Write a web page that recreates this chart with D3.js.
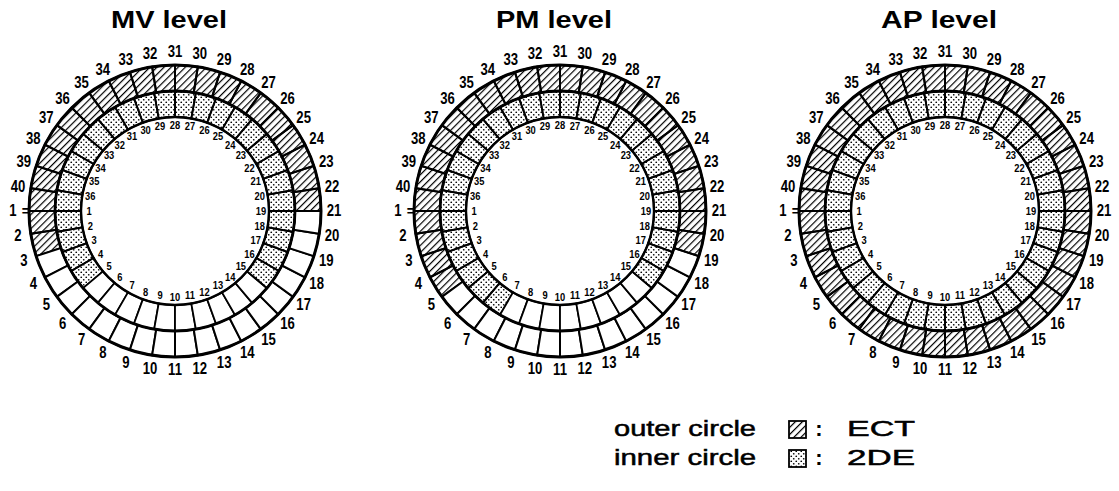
<!DOCTYPE html>
<html><head><meta charset="utf-8">
<script src="https://cdn.jsdelivr.net/npm/d3@7"></script>
<style>body{margin:0;background:#fff}svg{display:block}</style>
</head><body>
<script>
// ---------- data ----------
const levelNames = ["MV level", "PM level", "AP level"];
const outerLabels = [1,2,3,4,5,6,7,8,9,10,11,12,13,14,15,16,17,18,19,20,21,22,23,24,25,26,27,28,29,30,31,32,33,34,35,36,37,38,39,40];
const innerLabels = [1,2,3,4,5,6,7,8,9,10,11,12,13,14,15,16,17,18,19,20,21,22,23,24,25,26,27,28,29,30,31,32,33,34,35,36];
// outer circle segments showing ECT abnormality (segment i spans label i -> label i+1)
const ectMV = [21,22,23,24,25,26,27,28,29,30,31,32,33,34,35,36,37,38,39,40,1,2];
const ectPM = [19,20,21,22,23,24,25,26,27,28,29,30,31,32,33,34,35,36,37,38,39,40,1,2,3,4];
const ectAP = [1,2,3,4,5,6,7,8,9,10,11,12,13,14,15,16,17,18,19,20,21,22,23,24,25,26,27,28,29,30,31,32,33,34,35,36,37,38,39,40];
// inner circle segments showing 2DE abnormality
const deMV = [15,16,17,18,19,20,21,22,23,24,25,26,27,28,29,30,31,32,33,34,35,36,1,2,3,4];
const dePM = [15,16,17,18,19,20,21,22,23,24,25,26,27,28,29,30,31,32,33,34,35,36,1,2,3,4,5,6];
const deAP = [1,2,3,4,5,6,7,8,9,10,11,12,13,14,15,16,17,18,19,20,21,22,23,24,25,26,27,28,29,30,31,32,33,34,35,36];
const ectSets = [ectMV, ectPM, ectAP];
const deSets = [deMV, dePM, deAP];
const legendRows = [["outer circle", "ECT", "hatch"], ["inner circle", "2DE", "dots"]];

// ---------- layout ----------
const W = 1119, H = 491;
const centersX = [175, 560, 945], cy = 211;
const rOuter = 146, rMid = 120, rInner = 94;

const svg = d3.select("body").append("svg").attr("width", W).attr("height", H);
const defs = svg.append("defs");
const hatch = defs.append("pattern").attr("id", "hatch").attr("patternUnits", "userSpaceOnUse")
  .attr("width", 5).attr("height", 5).attr("patternTransform", "rotate(45)");
hatch.append("line").attr("x1", 0).attr("y1", -1).attr("x2", 0).attr("y2", 6)
  .attr("stroke", "#000").attr("stroke-width", 2.4);
const dots = defs.append("pattern").attr("id", "dots").attr("patternUnits", "userSpaceOnUse")
  .attr("width", 5).attr("height", 5);
dots.append("circle").attr("cx", 1.25).attr("cy", 1.25).attr("r", 0.85).attr("fill", "#000");
dots.append("circle").attr("cx", 3.75).attr("cy", 3.75).attr("r", 0.85).attr("fill", "#000");

const outerAngle = d3.scaleLinear().domain([1, outerLabels.length + 1])
  .range([-Math.PI / 2, -Math.PI / 2 - 2 * Math.PI]);
const innerAngle = d3.scaleLinear().domain([1, innerLabels.length + 1])
  .range([-Math.PI / 2, -Math.PI / 2 - 2 * Math.PI]);

const numFont = "'Liberation Sans', Arial, sans-serif";

levelNames.forEach((name, k) => {
  const g = svg.append("g").attr("transform", `translate(${centersX[k]},${cy})`);
  const ect = new Set(ectSets[k]), de = new Set(deSets[k]);

  const arcOuter = d3.arc().innerRadius(rMid).outerRadius(rOuter);
  const arcInner = d3.arc().innerRadius(rInner).outerRadius(rMid);

  g.selectAll("path.outer").data(outerLabels).join("path").attr("class", "outer")
    .attr("d", d => arcOuter({startAngle: outerAngle(d + 1), endAngle: outerAngle(d)}))
    .attr("fill", d => ect.has(d) ? "url(#hatch)" : "#fff")
    .attr("stroke", "#000").attr("stroke-width", 2);
  g.selectAll("path.inner").data(innerLabels).join("path").attr("class", "inner")
    .attr("d", d => arcInner({startAngle: innerAngle(d + 1), endAngle: innerAngle(d)}))
    .attr("fill", d => de.has(d) ? "url(#dots)" : "#fff")
    .attr("stroke", "#000").attr("stroke-width", 1.8);

  [[rOuter, 3], [rMid, 2.8], [rInner, 2.4]].forEach(([r, w]) => {
    g.append("circle").attr("r", r).attr("fill", "none").attr("stroke", "#000").attr("stroke-width", w);
  });

  // outer labels
  g.selectAll("text.ol").data(outerLabels).join("text").attr("class", "ol")
    .attr("transform", d => {
      const a = outerAngle(d), r = d === 1 ? 162 : 159;
      return `translate(${r * Math.sin(a)},${-r * Math.cos(a)}) scale(0.82,1)`;
    })
    .attr("text-anchor", "middle").attr("dominant-baseline", "central")
    .attr("font-family", numFont).attr("font-weight", "bold").attr("font-size", 16)
    .text(d => d);
  g.append("text").attr("x", -145).attr("y", 0).attr("text-anchor", "end")
    .attr("dominant-baseline", "central").attr("font-family", numFont)
    .attr("font-weight", "bold").attr("font-size", 14).text("=");

  // inner labels
  g.selectAll("text.il").data(innerLabels).join("text").attr("class", "il")
    .attr("transform", d => {
      const a = innerAngle(d), r = 86;
      return `translate(${r * Math.sin(a)},${-r * Math.cos(a)}) scale(0.85,1)`;
    })
    .attr("text-anchor", "middle").attr("dominant-baseline", "central")
    .attr("font-family", numFont).attr("font-weight", "bold").attr("font-size", 11)
    .text(d => d);

  // title
  svg.append("text").attr("x", centersX[k] - 6).attr("y", 28).attr("text-anchor", "middle")
    .attr("font-family", "'Liberation Sans', Arial, sans-serif").attr("font-weight", "bold")
    .attr("font-size", 23).attr("textLength", 116).attr("lengthAdjust", "spacingAndGlyphs")
    .text(name);
});

// legend
legendRows.forEach(([lab, val, pat], i) => {
  const y = 436 + i * 29;
  const tf = "'Liberation Sans', Arial, sans-serif";
  svg.append("text").attr("x", 614).attr("y", y).attr("font-family", tf).attr("font-size", 22)
    .attr("stroke", "#000").attr("stroke-width", 0.5)
    .attr("textLength", 142).attr("lengthAdjust", "spacingAndGlyphs").text(lab);
  svg.append("rect").attr("x", 789).attr("y", y - 15).attr("width", 17).attr("height", 17)
    .attr("fill", `url(#${pat})`).attr("stroke", "#000").attr("stroke-width", 1.8);
  svg.append("text").attr("x", 819).attr("y", y).attr("text-anchor", "middle")
    .attr("font-family", tf).attr("font-size", 22).attr("font-weight", "bold").text(":");
  svg.append("text").attr("x", 847).attr("y", y).attr("font-family", tf).attr("font-size", 22)
    .attr("stroke", "#000").attr("stroke-width", 0.5)
    .attr("textLength", 68).attr("lengthAdjust", "spacingAndGlyphs").text(val);
});
</script>
</body></html>
